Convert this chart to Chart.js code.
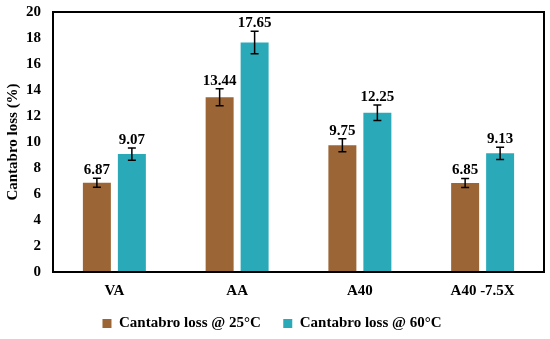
<!DOCTYPE html>
<html>
<head>
<meta charset="utf-8">
<script src="https://cdn.jsdelivr.net/npm/chart.js@4.4.1/dist/chart.umd.min.js"></script>
<style>
  html, body { margin: 0; padding: 0; background: #fff; }
  #wrap { width: 550px; height: 339px; }
</style>
</head>
<body>
<div id="wrap"><canvas id="chart" width="550" height="339"></canvas></div>
<script>
const categories = ["VA", "AA", "A40", "A40 -7.5X"];
const loss25 = [6.87, 13.44, 9.75, 6.85];
const loss60 = [9.07, 17.65, 12.25, 9.13];
const err25 = [0.35, 0.65, 0.5, 0.35];
const err60 = [0.47, 0.87, 0.6, 0.47];
const yMin = 0, yMax = 20, yStep = 2;

const serif = "'Liberation Serif', 'Times New Roman', serif";

// error bars + value labels on top
const errorBars = {
  id: "errorBars",
  afterDatasetsDraw(chart) {
    const ctx = chart.ctx;
    const y = chart.scales.y;
    chart.data.datasets.forEach((ds, di) => {
      const meta = chart.getDatasetMeta(di);
      meta.data.forEach((bar, i) => {
        const v = ds.data[i];
        const e = ds.errors[i];
        const top = y.getPixelForValue(v + e);
        const bot = y.getPixelForValue(v - e);
        ctx.save();
        ctx.strokeStyle = "#000";
        ctx.lineWidth = 1.5;
        ctx.beginPath();
        ctx.moveTo(bar.x, top); ctx.lineTo(bar.x, bot);
        ctx.moveTo(bar.x - 4, top); ctx.lineTo(bar.x + 4, top);
        ctx.moveTo(bar.x - 4, bot); ctx.lineTo(bar.x + 4, bot);
        ctx.stroke();
        ctx.fillStyle = "#000";
        ctx.font = "bold 15px " + serif;
        ctx.textAlign = "center";
        ctx.textBaseline = "alphabetic";
        ctx.fillText(v.toFixed(2), bar.x, top - 4);
        ctx.restore();
      });
    });
  }
};

// black frame round the plot area
const frame = {
  id: "frame",
  afterDraw(chart) {
    const a = chart.chartArea;
    const ctx = chart.ctx;
    ctx.save();
    ctx.strokeStyle = "#000";
    ctx.lineWidth = 2;
    ctx.strokeRect(a.left, a.top, a.right - a.left, a.bottom - a.top);
    ctx.restore();
  }
};

new Chart(document.getElementById("chart"), {
  type: "bar",
  data: {
    labels: categories,
    datasets: [
      {
        label: "Cantabro loss @ 25°C",
        data: loss25,
        errors: err25,
        backgroundColor: "#9c6535",
        barPercentage: 0.8,
        categoryPercentage: 0.57
      },
      {
        label: "Cantabro loss @ 60°C",
        data: loss60,
        errors: err60,
        backgroundColor: "#2aaab9",
        barPercentage: 0.8,
        categoryPercentage: 0.57
      }
    ]
  },
  options: {
    responsive: false,
    animation: false,
    layout: { padding: { top: 12, right: 6, left: 0, bottom: -2 } },
    plugins: {
      tooltip: { enabled: false },
      legend: {
        position: "bottom",
        labels: {
          color: "#000",
          font: { family: serif, size: 15, weight: "bold" },
          boxWidth: 9,
          boxHeight: 9,
          padding: 12,
          // a little more room between the two entries
          generateLabels(chart) {
            const items = Chart.defaults.plugins.legend.labels.generateLabels(chart);
            items[0].text += "\u2002\u2009";
            return items;
          }
        }
      }
    },
    scales: {
      x: {
        grid: { display: false, drawTicks: false },
        border: { display: false },
        ticks: {
          color: "#000",
          font: { family: serif, size: 15, weight: "bold" },
          padding: 10
        },
        afterFit(scale) { scale.height = 32; }
      },
      y: {
        min: yMin,
        max: yMax,
        grid: { display: false, drawTicks: false },
        border: { display: false },
        ticks: {
          stepSize: yStep,
          color: "#000",
          font: { family: serif, size: 15, weight: "bold" },
          padding: 12
        },
        title: {
          display: true,
          text: "Cantabro loss (%)",
          color: "#000",
          font: { family: serif, size: 15, weight: "bold" },
          padding: { top: 4, bottom: 0 }
        },
        afterFit(scale) {
          scale.width = 53;
          scale.paddingTop = 0;
          scale.paddingBottom = 0;
        }
      }
    }
  },
  plugins: [errorBars, frame]
});
</script>
</body>
</html>
